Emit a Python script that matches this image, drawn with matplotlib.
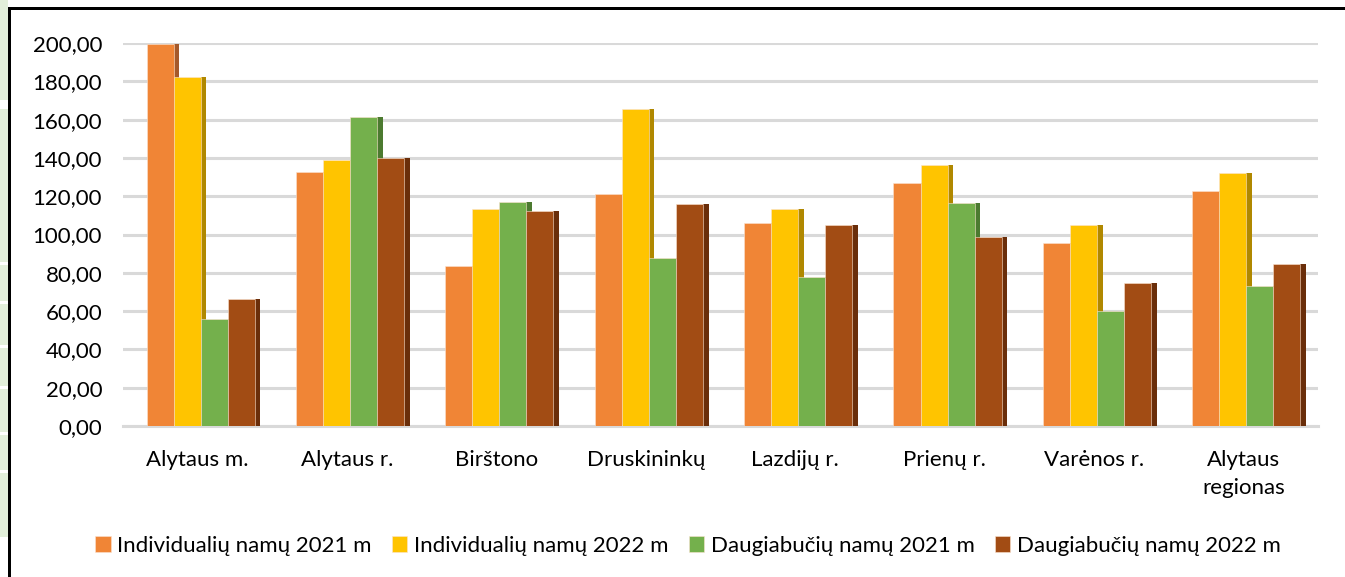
import matplotlib
matplotlib.use("Agg")
import matplotlib.pyplot as plt
import numpy as np
from matplotlib.patches import Rectangle

plt.rcParams['font.family'] = ['Lato', 'DejaVu Sans']

categories = ["Alytaus m.", "Alytaus r.", "Birštono", "Druskininkų", "Lazdijų r.",
              "Prienų r.", "Varėnos r.", "Alytaus\nregionas"]
series_names = ["Individualių namų 2021 m", "Individualių namų 2022 m",
                "Daugiabučių namų 2021 m", "Daugiabučių namų 2022 m"]
ind_2021 = [199.3, 132.6, 83.5, 121.4, 105.8, 127.1, 95.7, 122.8]
ind_2022 = [182.5, 139.0, 113.1, 165.7, 113.4, 136.4, 105.2, 132.0]
daug_2021 = [56.0, 161.3, 116.9, 87.7, 77.6, 116.2, 60.2, 73.3]
daug_2022 = [66.4, 139.7, 112.1, 115.9, 105.2, 98.5, 74.5, 84.4]
yticks = [0, 20, 40, 60, 80, 100, 120, 140, 160, 180, 200]

series = [ind_2021, ind_2022, daug_2021, daug_2022]
colors = ["#F08536", "#FFC400", "#74B04C", "#A24C14"]
shades = ["#A5592A", "#B08800", "#4C7A30", "#6A2E0A"]

W, H = 1345, 577
fig = plt.figure(figsize=(W / 100, H / 100), dpi=100)
fig.patch.set_facecolor("white")

# left green strip (background cells) and border
fig.patches.append(Rectangle((0, 1 - 537 / H), 8 / W, 537 / H, transform=fig.transFigure,
                             facecolor="#E2EFDA", edgecolor="none", zorder=0))
for yy, hh in [(100, 9), (262, 3), (301, 3), (345, 3), (386, 3), (432, 3), (470, 3)]:
    fig.patches.append(Rectangle((0, 1 - (yy + hh) / H), 8 / W, hh / H, transform=fig.transFigure,
                                 facecolor="white", edgecolor="none", zorder=1))
fig.patches.append(Rectangle((8 / W, 0), 3 / W, 1 - 7 / H, transform=fig.transFigure,
                             facecolor="black", edgecolor="none", zorder=2))
fig.patches.append(Rectangle((8 / W, 1 - 10 / H), 1 - 8 / W, 3 / H, transform=fig.transFigure,
                             facecolor="black", edgecolor="none", zorder=2))

left, right, top, bottom = 123, 1318, 43, 426
ax = fig.add_axes([left / W, 1 - bottom / H, (right - left) / W, (bottom - top) / H])
ax.set_facecolor("none")

n = len(categories)
x = np.arange(n) + 0.5
w = 0.181
sw = 0.038
offsets = [-1.5 * w, -0.5 * w, 0.5 * w, 1.5 * w]
for j, (vals, c, s) in enumerate(zip(series, colors, shades)):
    xs = x + offsets[j] + 0.02
    ax.bar(xs + w / 2 + sw / 2, vals, width=sw, color=s, zorder=2 + 2 * j, linewidth=0)
    ax.bar(xs, vals, width=w, color=c, zorder=3 + 2 * j, edgecolor="#FBE3D0", linewidth=0.4,
           label=series_names[j])

ax.set_xlim(0, n)
ax.set_ylim(0, 200)
ax.set_yticks(yticks)
ax.set_yticklabels([f"{v:.2f}".replace(".", ",") for v in yticks], fontsize=16, color="#000000")
ax.set_xticks(x)
ax.set_xticklabels(categories, fontsize=16, linespacing=1.55)
ax.tick_params(axis="both", length=0)
ax.tick_params(axis="y", pad=15)
ax.tick_params(axis="x", pad=17)
ax.grid(axis="y", color="#D9D9D9", linewidth=2.2)
ax.set_axisbelow(True)
for sp in ["top", "right", "left"]:
    ax.spines[sp].set_visible(False)
ax.spines["bottom"].set_color("#D9D9D9")
ax.spines["bottom"].set_linewidth(2.2)

handles, labels = ax.get_legend_handles_labels()
leg = fig.legend(handles, labels, loc="center", bbox_to_anchor=(688 / W, 1 - 546 / H), ncol=4,
                 frameon=False, fontsize=16, handlelength=0.7, handleheight=0.7,
                 handletextpad=0.3, columnspacing=0.9)

fig.savefig("out.png", dpi=100, facecolor="white")
